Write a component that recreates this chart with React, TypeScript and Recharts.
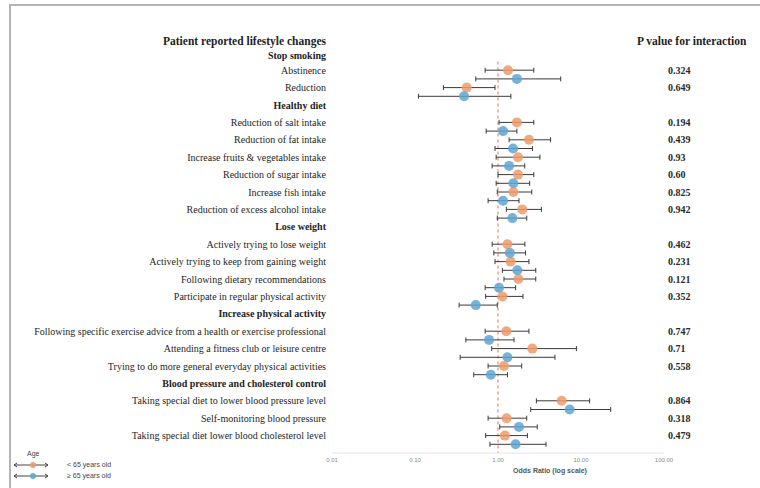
import { ErrorBar, Legend, ReferenceLine, Scatter, ScatterChart, XAxis, YAxis } from "recharts";

// One entry per row of the forest plot; section headings are included so rows keep their slot.
const rowLabels = [
  "Patient reported lifestyle changes",
  "Stop smoking",
  "Abstinence",
  "Reduction",
  "Healthy diet",
  "Reduction of salt intake",
  "Reduction of fat intake",
  "Increase fruits & vegetables intake",
  "Reduction of sugar intake",
  "Increase fish intake",
  "Reduction of excess alcohol intake",
  "Lose weight",
  "Actively trying to lose weight",
  "Actively trying to keep from gaining weight",
  "Following dietary recommendations",
  "Participate in regular physical activity",
  "Increase physical activity",
  "Following specific exercise advice from a health or exercise professional",
  "Attending a fitness club or leisure centre",
  "Trying to do more general everyday physical activities",
  "Blood pressure and cholesterol control",
  "Taking special diet to lower blood pressure level",
  "Self-monitoring blood pressure",
  "Taking special diet lower blood cholesterol level",
];

const sectionRows = [0, 1, 4, 11, 16, 20];

const pValues = [
  null, null, "0.324", "0.649", null, "0.194", "0.439", "0.93", "0.60", "0.825", "0.942", null,
  "0.462", "0.231", "0.121", "0.352", null, "0.747", "0.71", "0.558", null, "0.864", "0.318", "0.479",
];

// Odds ratios with 95% CI, patients < 65 years
const youngOR = [null, null, 1.32, 0.42, null, 1.69, 2.36, 1.74, 1.74, 1.53, 1.96, null, 1.3, 1.42, 1.76, 1.13, null, 1.26, 2.59, 1.18, null, 5.85, 1.27, 1.21];
const youngLow = [null, null, 0.7, 0.22, null, 1.03, 1.36, 0.95, 1.0, 0.98, 1.26, null, 0.85, 0.92, 1.18, 0.71, null, 0.7, 0.84, 0.76, null, 2.9, 0.76, 0.71];
const youngHigh = [null, null, 2.7, 0.92, null, 2.7, 4.3, 3.2, 2.7, 2.55, 3.33, null, 2.11, 2.36, 2.85, 2.0, null, 2.36, 8.8, 1.93, null, 12.7, 2.22, 2.26];

// Odds ratios with 95% CI, patients >= 65 years
const olderOR = [null, null, 1.69, 0.39, null, 1.15, 1.52, 1.36, 1.53, 1.15, 1.49, null, 1.39, 1.71, 1.03, 0.54, null, 0.78, 1.3, 0.82, null, 7.3, 1.79, 1.63];
const olderLow = [null, null, 0.54, 0.11, null, 0.72, 0.92, 0.85, 0.95, 0.76, 0.98, null, 0.89, 1.13, 0.7, 0.34, null, 0.41, 0.35, 0.51, null, 2.48, 1.05, 0.8];
const olderHigh = [null, null, 5.7, 1.43, null, 1.69, 2.6, 2.1, 2.41, 1.79, 2.22, null, 2.15, 2.85, 1.63, 0.98, null, 1.56, 4.86, 1.3, null, 22.8, 2.97, 3.79];

const xTicks = [0.01, 0.1, 1, 10, 100];

const YOUNG_COLOR = "#ef9a68";
const OLDER_COLOR = "#5fa6d2";
const SERIF = "'Liberation Serif', 'Times New Roman', serif";
const SANS = "'Liberation Sans', Arial, sans-serif";

function toPoints(or: (number | null)[], low: (number | null)[], high: (number | null)[], shift: number) {
  return rowLabels.flatMap((_, i) => {
    const v = or[i];
    if (v == null) return [];
    return [{ row: i + shift, or: v, ci: [v - (low[i] as number), (high[i] as number) - v] }];
  });
}

const youngPoints = toPoints(youngOR, youngLow, youngHigh, 0);
const olderPoints = toPoints(olderOR, olderLow, olderHigh, 0.5);

const rowTicks = rowLabels.map((_, i) => i);
const pTicks = [0, ...rowTicks.filter((i) => pValues[i] != null)];
// anchors for the right-hand P value axis (nothing is drawn for them)
const pAnchors = pTicks.map((row) => ({ row, or: 1 }));

function RowLabel(props: any) {
  const { x, y, payload } = props;
  const row = payload.value as number;
  const heading = sectionRows.includes(row);
  let dy = 0;
  if (row === 0) dy = 6;
  if (row === 1) dy = 3;
  return (
    <text
      x={x}
      y={y + dy}
      dy="0.35em"
      textAnchor="end"
      fontFamily={SERIF}
      fontSize={row === 0 ? 11.5 : 10}
      fontWeight={heading ? "bold" : "normal"}
      fill="#1e1e1e"
    >
      {rowLabels[row]}
    </text>
  );
}

function PLabel(props: any) {
  const { x, y, payload } = props;
  const row = payload.value as number;
  if (row === 0) {
    return (
      <text x={x - 31} y={y + 6} dy="0.35em" fontFamily={SERIF} fontSize={11.5} fontWeight="bold" fill="#1e1e1e">
        P value for interaction
      </text>
    );
  }
  return (
    <text x={x} y={y} dy="0.35em" fontFamily={SERIF} fontSize={10} fontWeight="bold" fill="#2a2a2a">
      {pValues[row]}
    </text>
  );
}

function Marker(props: any) {
  const { cx, cy, fill } = props;
  return <circle cx={cx} cy={cy} r={5} fill={fill} fillOpacity={0.85} />;
}

function AxisTitle(props: any) {
  const { viewBox } = props;
  return (
    <text
      x={viewBox.x + viewBox.width / 2 + 52}
      y={viewBox.y + 20}
      textAnchor="middle"
      fontFamily={SANS}
      fontSize={7}
      fontWeight="bold"
      fill="#555"
    >
      Odds Ratio (log scale)
    </text>
  );
}

function AgeLegend(props: any) {
  const items = ((props.payload || []) as { value: string; color: string; type?: string }[]).filter(
    (item) => item.type !== "none"
  );
  return (
    <div style={{ fontFamily: SANS, fontSize: 7, color: "#444", lineHeight: "10px" }}>
      <div style={{ paddingLeft: 17 }}>Age</div>
      {items.map((item) => (
        <div key={item.value} style={{ display: "flex", alignItems: "center", height: 11 }}>
          <svg width={40} height={8} style={{ marginLeft: 3 }}>
            <line x1={1} y1={4} x2={35} y2={4} stroke="#444" strokeWidth={1} />
            <path d="M1 4 L4 2 M1 4 L4 6 M35 4 L32 2 M35 4 L32 6" stroke="#444" strokeWidth={1} fill="none" />
            <circle cx={20} cy={4} r={3} fill={item.color} fillOpacity={0.9} />
          </svg>
          <span style={{ marginLeft: 14 }}>{item.value}</span>
        </div>
      ))}
    </div>
  );
}

export default function App() {
  return (
    <div style={{ position: "relative", width: 760, height: 488, background: "#fff", overflow: "hidden" }}>
      <style>{"body{margin:0}"}</style>
      <div
        style={{
          position: "absolute",
          left: 9,
          top: 4,
          right: -4,
          bottom: -4,
          borderTop: "2px solid #b4b4b4",
          borderLeft: "2px solid #b4b4b4",
        }}
      />
      <ScatterChart width={760} height={488} margin={{ top: 18, right: 0, bottom: 0, left: 0 }}>
        <XAxis
          type="number"
          dataKey="or"
          scale="log"
          domain={[0.01, 100]}
          ticks={xTicks}
          allowDataOverflow
          height={35}
          tickLine={false}
          tickSize={0}
          tickMargin={5}
          axisLine={{ stroke: "#e4e4e4" }}
          tick={{ fontSize: 6, fill: "#8a8a8a", fontFamily: SANS }}
          tickFormatter={(v: number) => v.toFixed(2)}
          label={<AxisTitle />}
        />
        <YAxis
          yAxisId="rows"
          type="number"
          dataKey="row"
          domain={[-1, 24]}
          reversed
          ticks={rowTicks}
          interval={0}
          width={332}
          axisLine={false}
          tickLine={false}
          tickSize={0}
          tickMargin={6}
          tick={<RowLabel />}
        />
        <YAxis
          yAxisId="p"
          orientation="right"
          type="number"
          dataKey="row"
          domain={[-1, 24]}
          reversed
          ticks={pTicks}
          interval={0}
          width={96}
          axisLine={false}
          tickLine={false}
          tickSize={0}
          tickMargin={4}
          tick={<PLabel />}
        />
        <ReferenceLine
          yAxisId="rows"
          segment={[
            { x: 1, y: 1.5 },
            { x: 1, y: 24 },
          ]}
          stroke="#e8734c"
          strokeWidth={1}
          strokeDasharray="3 3"
        />
        <Scatter
          yAxisId="p"
          data={pAnchors}
          shape={() => <g />}
          legendType="none"
          isAnimationActive={false}
        />
        <Scatter
          yAxisId="rows"
          name="< 65 years old"
          data={youngPoints}
          fill={YOUNG_COLOR}
          shape={<Marker />}
          isAnimationActive={false}
        >
          <ErrorBar dataKey="ci" direction="x" width={2.5} stroke="#3a3a3a" strokeWidth={1} />
        </Scatter>
        <Scatter
          yAxisId="rows"
          name="≥ 65 years old"
          data={olderPoints}
          fill={OLDER_COLOR}
          shape={<Marker />}
          isAnimationActive={false}
        >
          <ErrorBar dataKey="ci" direction="x" width={2.5} stroke="#3a3a3a" strokeWidth={1} />
        </Scatter>
        <Legend
          layout="vertical"
          align="center"
          verticalAlign="middle"
          content={<AgeLegend />}
          wrapperStyle={{ position: "absolute", left: 10, top: 449, width: 150 }}
        />
      </ScatterChart>
    </div>
  );
}
